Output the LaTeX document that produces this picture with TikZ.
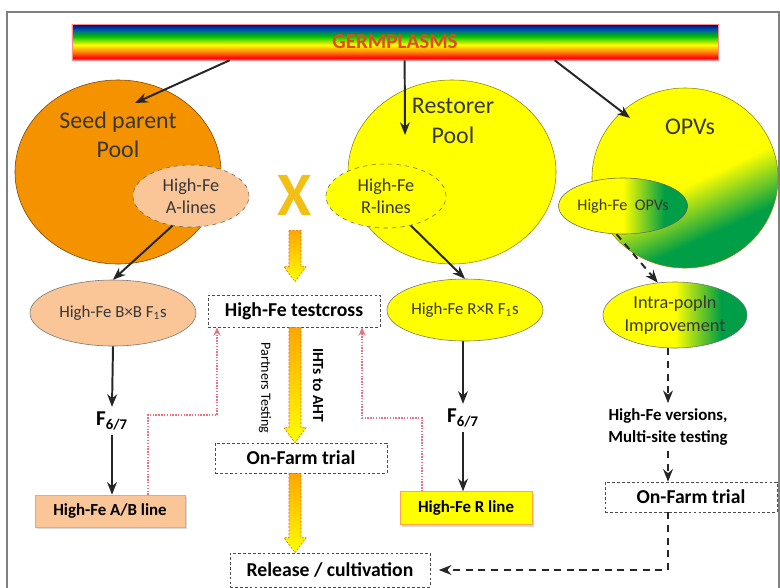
\documentclass[tikz,border=0pt]{standalone}
\usepackage{fontspec}
\setmainfont{Carlito}
\usetikzlibrary{arrows.meta,calc,shapes.geometric,shadows}

\definecolor{poolorange}{RGB}{244,146,0}
\definecolor{peach}{RGB}{250,198,152}
\definecolor{poolyellow}{RGB}{255,255,0}
\definecolor{opvgreen}{RGB}{0,158,70}
\definecolor{pinkline}{RGB}{236,112,132}
\definecolor{txtgray}{RGB}{55,55,55}
\definecolor{germred}{RGB}{232,72,30}
\definecolor{xyellow}{RGB}{242,192,20}

\pgfdeclareverticalshading{rainbow}{100bp}{color(0bp)=(red!55!white); color(25bp)=(red!55!white);
  color(28bp)=(red); color(36bp)=(orange); color(46bp)=(yellow); color(58bp)=(green!75!black);
  color(67bp)=(teal!70!blue); color(75bp)=(blue!55!black); color(100bp)=(blue!55!black)}
\pgfdeclareverticalshading{opvshade}{100bp}{color(0bp)=(opvgreen); color(33bp)=(opvgreen);
  color(48bp)=(poolyellow); color(100bp)=(poolyellow)}
\pgfdeclarehorizontalshading{opvside}{100bp}{color(0bp)=(poolyellow); color(50bp)=(poolyellow);
  color(66bp)=(opvgreen); color(100bp)=(opvgreen)}

% fat dashed arrow between two named coordinates
\newcommand{\fatarrow}[2]{%
  \draw[fatarr] ($(#1)+(-6,0)$) -- ($(#2)+(-6,-15)$) -- ($(#2)+(-11,-15)$) -- (#2)
    -- ($(#2)+(11,-15)$) -- ($(#2)+(6,-15)$) -- ($(#1)+(6,0)$) -- cycle;}

\begin{document}
\begin{tikzpicture}[x=0.025cm,y=-0.025cm,thick]
    % `pool' is used for the three big germplasm pools.
    % `sel' is used for the dashed High-Fe selections inside a pool.
    % `fone' is used for the F1 ellipses, `trialbox' for the dashed boxes.
    \tikzstyle{pool} = [ellipse,draw=black!55,thin,inner sep=0pt]
    \tikzstyle{sel} = [ellipse,draw=black!60,thin,dashed,inner sep=0pt,align=center,text=txtgray,font=\fontsize{13}{16}\selectfont]
    \tikzstyle{fone} = [ellipse,draw=black!55,thin,inner sep=0pt,align=center,text=txtgray,font=\fontsize{12}{16}\selectfont]
    \tikzstyle{trialbox} = [draw=black!70,thin,dash pattern=on 2pt off 1.5pt,inner sep=0pt,font=\bfseries\fontsize{14}{16}\selectfont]
    \tikzstyle{linebox} = [draw=orange!70,thin,inner sep=0pt,font=\bfseries\fontsize{12}{14}\selectfont,
      drop shadow={opacity=0.3,shadow xshift=1.5pt,shadow yshift=-1.5pt}]
    \tikzstyle{flow} = [draw=black!85,line width=1.4pt,-{Stealth[length=9pt,width=7pt]}]
    \tikzstyle{dashflow} = [flow,dash pattern=on 5pt off 4pt]
    \tikzstyle{feedback} = [draw=pinkline,densely dotted,line width=1pt,-{Stealth[length=6pt,width=5pt]}]
    \tikzstyle{fatarr} = [top color=orange!70!yellow,bottom color=yellow,draw=orange!85!black,thin,dash pattern=on 1.5pt off 1pt]
    %
    \useasboundingbox (0,0) rectangle (780,587);
    \draw[black!50,line width=1pt] (7,12) rectangle (779,600);
    %
    \node[draw=red!45,thin,shade,shading=rainbow,minimum width=16.15cm,minimum height=0.9cm,inner sep=0pt,
      text=germred,font=\bfseries\fontsize{15}{17}\selectfont] (bar) at (395,42) {GERMPLASMS};
    %
    % Pools.
    \node[pool,fill=poolorange,draw=orange!50!black,minimum width=5.15cm,minimum height=4.6cm] (seedpool) at (118,172) {};
    \node[pool,fill=poolyellow,draw=olive,minimum width=5.2cm,minimum height=4.6cm] (restpool) at (452,172) {};
    \node[pool,draw=olive,shade,shading=opvshade,shading angle=25,
      minimum width=4.65cm,minimum height=4.5cm] (opvpool) at (685,178) {};
    \node[align=center,text=txtgray,font=\fontsize{17}{21}\selectfont] (seedlbl) at (118,135) {Seed parent\\Pool};
    \node[align=center,text=txtgray,font=\fontsize{17}{21}\selectfont] (restlbl) at (453,121) {Restorer\\Pool};
    \node[text=txtgray,font=\fontsize{17}{21}\selectfont] (opvlbl) at (690,127) {OPVs};
    %
    \node[sel,fill=peach,minimum width=2.9cm,minimum height=1.55cm] (alines) at (191,196) {High-Fe\\A-lines};
    \node[sel,fill=poolyellow,minimum width=3cm,minimum height=1.6cm] (rlines) at (386,196) {High-Fe\\R-lines};
    \node[fone,draw=black!60,shade,shading=opvside,
      minimum width=2.65cm,minimum height=1.4cm,font=\fontsize{11.5}{14}\selectfont] (hfopv) at (623,206) {High-Fe~ OPVs};
    \node[text=xyellow,font=\bfseries\fontsize{44}{44}\selectfont] (xmark) at (295,195) {X};
    %
    \node[fone,fill=peach,minimum width=4.15cm,minimum height=1.65cm] (bbf1) at (113,313) {High-Fe B×B F\textsubscript{1}s};
    \node[fone,fill=poolyellow,minimum width=3.9cm,minimum height=1.55cm] (rrf1) at (465,310) {High-Fe R×R F\textsubscript{1}s};
    \node[fone,shade,shading=opvside,
      minimum width=3.6cm,minimum height=1.65cm,font=\fontsize{13}{16}\selectfont] (intra) at (675,315) {Intra-popln\\Improvement};
    \node[trialbox,minimum width=4.3cm,minimum height=0.8cm] (testcross) at (294,311) {High-Fe testcross};
    %
    \node[font=\bfseries\fontsize{15}{17}\selectfont] (f67a) at (112,421) {F\textsubscript{6/7}};
    \node[font=\bfseries\fontsize{15}{17}\selectfont] (f67r) at (463,418) {F\textsubscript{6/7}};
    \node[linebox,fill=peach,minimum width=3.75cm,minimum height=0.8cm] (abline) at (110,511) {High-Fe A/B line};
    \node[linebox,fill=poolyellow,minimum width=3.3cm,minimum height=0.82cm] (rline) at (466,508) {High-Fe R line};
    \node[trialbox,minimum width=4.3cm,minimum height=0.75cm] (onfarm) at (301,458) {On-Farm trial};
    \node[trialbox,minimum width=5cm,minimum height=0.85cm] (release) at (330,570) {Release / cultivation};
    \node[align=center,font=\bfseries\fontsize{12}{16}\selectfont] (versions) at (668,427) {High-Fe versions,\\Multi-site testing};
    \node[trialbox,minimum width=4.3cm,minimum height=0.75cm] (onfarm2) at (691,497) {On-Farm trial};
    \node[rotate=-90,font=\fontsize{10}{12}\selectfont] (partners) at (265,388) {Partners Testing};
    \node[rotate=-90,font=\bfseries\fontsize{11}{12}\selectfont] (ihts) at (318,385) {IHTs to AHT};
    %
    % Arrows from the germplasm bar.
    \coordinate (seedend) at (135,103);
    \coordinate (restend) at (405,135);
    \coordinate (opvend) at (630,118);
    \draw[flow] ($(bar.south west)+(158,0)$) -- (seedend);
    \draw[flow] ($(bar.south west)+(333,0)$) -- (restend);
    \draw[flow] ($(bar.south west)+(483,0)$) -- (opvend);
    %
    \draw[flow] (alines.238) -- (bbf1.north);
    \draw[flow] (rlines.-50) -- (rrf1.north);
    \draw[dashflow] (hfopv.-103) -- (intra.118);
    \draw[flow] (bbf1.south) -- (f67a.north);
    \draw[flow] (f67a.south) -- (f67a.south |- abline.north);
    \draw[flow] (rrf1.south -| f67r) -- (f67r.north);
    \draw[flow] (f67r.south) -- (f67r.south |- rline.north);
    \draw[dashflow] (intra.south -| versions) -- (versions.north);
    \draw[dashflow] (versions.south) -- (versions.south |- onfarm2.north);
    \draw[dashflow,shorten >=6pt] (versions.south |- onfarm2.south) |- (release.east);
    %
    % Feedback to the testcross.
    \coordinate (pa0) at (148,0);
    \coordinate (pa) at (217,415);
    \coordinate (pr0) at (422,0);
    \coordinate (pr) at (362,418);
    \draw[feedback] (abline.north -| pa0) |- (pa) -- (pa |- testcross.south);
    \draw[feedback] (rline.north -| pr0) |- (pr) -- (pr |- testcross.south);
    %
    % Fat arrows down the middle.
    \coordinate (fa1) at ($(xmark.south)+(0,10)$);
    \coordinate (fa2) at ($(xmark.south |- testcross.north)+(0,-13)$);
    \coordinate (fb1) at (xmark.south |- testcross.south);
    \coordinate (fb2) at (xmark.south |- onfarm.north);
    \coordinate (fc1) at (xmark.south |- onfarm.south);
    \coordinate (fc2) at (xmark.south |- release.north);
    \fatarrow{fa1}{fa2}
    \fatarrow{fb1}{fb2}
    \fatarrow{fc1}{fc2}
\end{tikzpicture}
\end{document}
